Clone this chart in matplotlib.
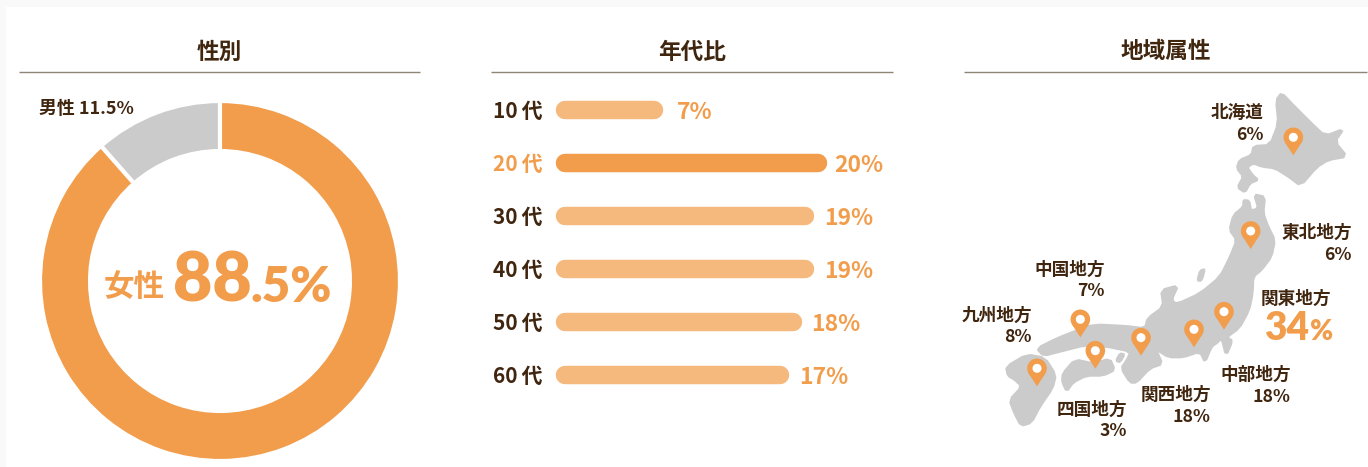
#!/usr/bin/env python3
"""Survey attributes panel: gender donut, age bars, region map."""
import matplotlib
matplotlib.use('Agg')
import numpy as np
import matplotlib.pyplot as plt
from matplotlib.patches import Circle, Polygon, Rectangle

plt.rcParams['font.family'] = ['Noto Sans CJK JP', 'DejaVu Sans']

W, H = 1368, 467
ORANGE = '#f29d4c'
LIGHT = '#f5b97d'
GRAY = '#cbcbcb'
BROWN = '#40250f'
RULE = '#8f8576'

gender_labels = ['男性', '女性']
gender_values = [11.5, 88.5]

age_labels = ['10代', '20代', '30代', '40代', '50代', '60代']
age_values = [7, 20, 19, 19, 18, 17]
age_highlight = '20代'

panel_titles = ['性別', '年代比', '地域属性']

region_names = ['北海道', '東北地方', '中国地方', '九州地方', '中部地方', '関西地方', '四国地方']
region_values = [6, 6, 7, 8, 18, 18, 3]
top_region = '関東地方'
top_value = 34

# map outlines, traced in 3x zoom coords of the source
HOKKAIDO = [(965, 38), (1000, 75), (1050, 125), (1095, 168), (1152, 146), (1125, 185), (1162, 230),
            (1105, 240), (1070, 262), (1022, 318), (985, 290), (945, 265), (905, 260), (880, 250),
            (862, 262), (878, 285), (895, 300), (870, 310), (855, 338), (832, 322), (850, 290),
            (830, 265), (838, 240), (875, 225), (880, 198), (930, 195), (955, 130), (948, 60)]
HONSHU = [(850, 360), (868, 362), (873, 392), (895, 385), (882, 343), (915, 350), (910, 400),
          (925, 440), (945, 480), (935, 530), (905, 570), (880, 590), (878, 640), (868, 690),
          (838, 745), (800, 772), (818, 782), (798, 828), (785, 775), (770, 790), (755, 800),
          (735, 848), (720, 815), (670, 832), (625, 832), (588, 808), (608, 852), (570, 865),
          (530, 908), (510, 908), (483, 865), (500, 840), (512, 815), (440, 800), (380, 795),
          (300, 815), (250, 828), (230, 805), (290, 775), (340, 755), (400, 733), (500, 738),
          (555, 745), (562, 715), (610, 680), (603, 630), (655, 616), (635, 660), (650, 672),
          (720, 640), (780, 590), (810, 530), (830, 480), (808, 450), (820, 405), (850, 380)]
SHIKOKU = [(308, 880), (345, 838), (400, 850), (450, 836), (465, 870), (430, 887), (380, 887),
           (340, 907), (320, 935), (306, 905)]
KYUSHU = [(138, 860), (200, 823), (255, 833), (288, 885), (278, 925), (240, 980), (215, 1028),
          (183, 1038), (163, 1000), (148, 960), (185, 920), (165, 900), (143, 887)]
SADO = [(712, 602), (720, 572), (735, 567), (725, 602)]
AWAJI = [(468, 842), (480, 820), (494, 823), (480, 847)]
PINS = [(1000, 172), (872, 453), (792, 695), (702, 748), (543, 773), (361, 718), (406, 812), (231, 865)]

# small hand nudges for the percent labels, in points
LABEL_NUDGE = {7: 3.6, 20: -1.5}


def zoomed(pts):
    return [(960 + x / 3, 80 + y / 3) for x, y in pts]


def smooth(pts, rounds=1):
    # corner cutting so the traced coast doesn't look like a polygon
    p = np.array(pts, dtype=float)
    for _ in range(rounds):
        q = np.roll(p, -1, axis=0)
        p = np.column_stack([0.8 * p + 0.2 * q, 0.2 * p + 0.8 * q]).reshape(-1, 2)
    return p


def axes_px(fig, left, top, right, bottom):
    ax = fig.add_axes([left / W, 1 - bottom / H, (right - left) / W, (bottom - top) / H])
    ax.axis('off')
    ax.patch.set_alpha(0)
    return ax


def draw_pin(ax, cx, cy):
    r = 9.8
    tip = 18.0
    a = np.arcsin(r / tip)
    dx, dy = r * np.cos(a), r * np.sin(a)
    ax.add_patch(Polygon([(cx - dx, cy + dy), (cx, cy + tip), (cx + dx, cy + dy)], fc=ORANGE, ec='none', zorder=3))
    ax.add_patch(Circle((cx, cy), r, fc=ORANGE, ec='none', zorder=3))
    ax.add_patch(Circle((cx, cy), 4.5, fc='white', ec='none', zorder=4))


def draw_frame(ax):
    ax.add_patch(Rectangle((6, 7), W, H, fc='white', ec='none', zorder=0))
    for title, (x0, x1) in zip(panel_titles, [(19, 420), (491, 893), (964, 1367)]):
        ax.plot([x0, x1], [71.5, 71.5], color=RULE, lw=1.0, solid_capstyle='butt')
        ax.text((x0 + x1) / 2, 52, title, ha='center', va='center', fontsize=16.3, fontweight='bold', color=BROWN)


def draw_donut(fig, ax):
    pie_ax = axes_px(fig, 40, 101, 400, 461)
    pie_ax.pie(gender_values, colors=[GRAY, ORANGE], startangle=90, counterclock=True, radius=1.0,
               wedgeprops=dict(width=0.278, edgecolor='white', linewidth=3))
    pie_ax.set_xlim(-1, 1)
    pie_ax.set_ylim(-1, 1)
    ax.text(134, 109.5, f'{gender_labels[0]} {gender_values[0]}%', ha='right', va='center', fontsize=12.9,
            fontweight='bold', color=BROWN)
    ax.text(134, 287, gender_labels[1], ha='center', va='center', fontsize=22, fontweight='bold', color=ORANGE)
    whole, frac = f'{gender_values[1]}'.split('.')
    ax.text(173, 301.5, whole, ha='left', va='baseline', fontsize=49, family='Lato', fontweight='heavy', color=ORANGE)
    ax.text(250, 301.5, f'.{frac}%', ha='left', va='baseline', fontsize=35.5, family='Lato', fontweight='heavy', color=ORANGE)


def draw_bars(fig):
    ax = axes_px(fig, 565, 83.5, 881.25, 401.5)
    ax.set_xlim(0, 25)
    ax.set_ylim(len(age_values) - 0.5, -0.5)
    for i, (label, v) in enumerate(zip(age_labels, age_values)):
        hot = label == age_highlight
        ax.plot([0, v], [i, i], color=ORANGE if hot else LIGHT, lw=13.3, solid_capstyle='round', clip_on=False)
        ax.annotate(label.replace('代', '\u2009代'), (0, i), xytext=(-16, -5.8), textcoords='offset points',
                    ha='right', va='baseline', fontsize=15, fontweight='bold',
                    color=ORANGE if hot else BROWN, annotation_clip=False)
        ax.annotate(f'{v}%', (v, i), xytext=(13.5 + LABEL_NUDGE.get(v, 0), -6.5), textcoords='offset points',
                    ha='left', va='baseline', fontsize=16.5, fontweight='bold', color=ORANGE, annotation_clip=False)


def draw_map(ax):
    for outline in [HOKKAIDO, HONSHU, SHIKOKU, KYUSHU, SADO, AWAJI]:
        ax.add_patch(Polygon(smooth(zoomed(outline)), fc=GRAY, ec=GRAY, lw=1.5, joinstyle='round', zorder=2))
    for cx, cy in zoomed(PINS):
        draw_pin(ax, cx, cy)
    spots = [(1264, 113), (1352, 233), (1105, 270), (1032, 316), (1291, 375), (1211, 395), (1127, 410)]
    for name, v, (x, y) in zip(region_names, region_values, spots):
        ax.text(x, y, name, ha='right', va='center', fontsize=12.7, fontweight='bold', color=BROWN, zorder=5)
        ax.text(x, y + 21.5, f'{v}%', ha='right', va='center', fontsize=12.7, fontweight='bold', color=BROWN, zorder=5)
    ax.text(1331, 299, top_region, ha='right', va='center', fontsize=12.7, fontweight='bold', color=BROWN, zorder=5)
    ax.text(1264, 340, f'{top_value}', ha='left', va='baseline', fontsize=28, family='Lato', fontweight='heavy', color=ORANGE, zorder=5)
    ax.text(1333, 340, '%', ha='right', va='baseline', fontsize=20, family='Lato', fontweight='heavy', color=ORANGE, zorder=5)


def main():
    fig = plt.figure(figsize=(W / 100, H / 100), dpi=100, facecolor='#f9f9f9')
    ax = axes_px(fig, 0, 0, W, H)
    ax.set_xlim(0, W)
    ax.set_ylim(H, 0)
    draw_frame(ax)
    draw_map(ax)
    draw_donut(fig, ax)
    draw_bars(fig)
    fig.savefig('out.png', dpi=100, facecolor=fig.get_facecolor())


if __name__ == '__main__':
    main()
